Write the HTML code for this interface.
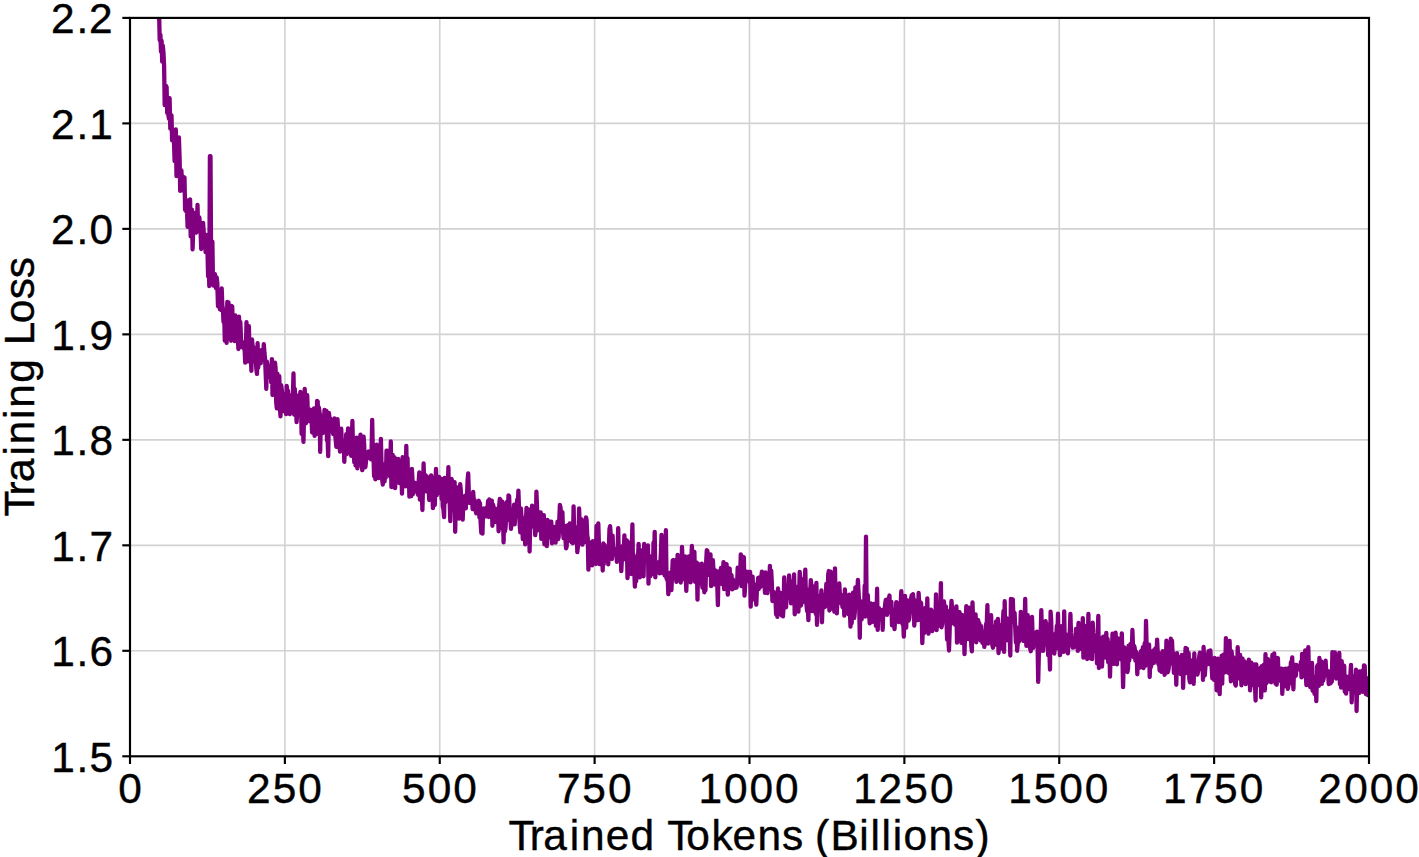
<!DOCTYPE html>
<html lang="en">
<head>
<meta charset="utf-8">
<title>Training Loss vs Trained Tokens</title>
<style>
html,body{margin:0;padding:0;background:#fff;}
body{width:1419px;height:857px;overflow:hidden;font-family:"Liberation Sans",sans-serif;}
svg{display:block;position:absolute;left:0;top:0;}
text{font-family:"Liberation Sans",sans-serif;font-size:100px;fill:#000;stroke:#000;stroke-width:0.94px;stroke-linejoin:round;}
</style>
</head>
<body>
<svg width="1419" height="857" viewBox="0 0 1419 857">
<defs><clipPath id="ax"><rect x="130.0" y="17.9" width="1239.0" height="738.4"/></clipPath></defs>
<rect x="0" y="0" width="1419" height="857" fill="#fff"/>
<g stroke="#d2d2d2" stroke-width="1.6" fill="none">
<line x1="284.88" y1="17.9" x2="284.88" y2="756.3"/>
<line x1="439.75" y1="17.9" x2="439.75" y2="756.3"/>
<line x1="594.62" y1="17.9" x2="594.62" y2="756.3"/>
<line x1="749.50" y1="17.9" x2="749.50" y2="756.3"/>
<line x1="904.38" y1="17.9" x2="904.38" y2="756.3"/>
<line x1="1059.25" y1="17.9" x2="1059.25" y2="756.3"/>
<line x1="1214.12" y1="17.9" x2="1214.12" y2="756.3"/>
<line x1="130.0" y1="650.81" x2="1369.0" y2="650.81"/>
<line x1="130.0" y1="545.33" x2="1369.0" y2="545.33"/>
<line x1="130.0" y1="439.84" x2="1369.0" y2="439.84"/>
<line x1="130.0" y1="334.36" x2="1369.0" y2="334.36"/>
<line x1="130.0" y1="228.87" x2="1369.0" y2="228.87"/>
<line x1="130.0" y1="123.39" x2="1369.0" y2="123.39"/>
</g>
<g clip-path="url(#ax)">
<path fill="none" stroke="#800080" stroke-width="4.3" stroke-linejoin="round" stroke-linecap="square" d="M148.6,-120.7 L149.2,-117.3 L149.8,-101.7 L150.4,-83.8 L151.1,-81.8 L151.7,-66.4 L152.3,-74.7 L152.9,-87.1 L153.5,-51.3 L154.2,-40.7 L154.8,-48.7 L155.4,-40.5 L156.0,-32.3 L156.6,-13.8 L157.3,-15.8 L157.9,-17.8 L158.5,18.3 L159.1,12.2 L159.7,40.2 L160.4,34.6 L161.0,51.6 L161.6,40.7 L162.2,61.7 L162.8,45.7 L163.5,53.3 L164.1,65.8 L164.7,105.1 L165.3,86.6 L165.9,85.7 L166.6,87.0 L167.2,113.0 L167.8,104.5 L168.4,115.4 L169.0,118.8 L169.6,98.2 L170.3,128.7 L170.9,124.8 L171.5,115.3 L172.1,140.4 L172.7,137.9 L173.4,137.9 L174.0,142.4 L174.6,161.1 L175.2,146.3 L175.8,129.5 L176.5,176.2 L177.1,149.3 L177.7,161.0 L178.3,172.8 L178.9,137.5 L179.6,158.0 L180.2,190.9 L180.8,177.1 L181.4,170.5 L182.0,181.7 L182.7,176.4 L183.3,190.6 L183.9,181.6 L184.5,177.3 L185.1,209.9 L185.8,199.4 L186.4,211.9 L187.0,210.2 L187.6,226.8 L188.2,221.7 L188.9,221.2 L189.5,203.2 L190.1,199.4 L190.7,236.4 L191.3,229.7 L191.9,209.7 L192.6,249.4 L193.2,229.7 L193.8,226.2 L194.4,213.0 L195.0,219.6 L195.7,232.0 L196.3,232.6 L196.9,229.6 L197.5,204.8 L198.1,230.4 L198.8,228.9 L199.4,217.5 L200.0,228.7 L200.6,232.4 L201.2,249.0 L201.9,236.5 L202.5,243.3 L203.1,222.9 L203.7,232.0 L204.3,245.1 L205.0,236.4 L205.6,252.1 L206.2,234.8 L206.8,250.1 L207.4,247.5 L208.1,276.5 L208.7,255.7 L209.3,286.1 L209.9,156.1 L210.5,156.1 L211.2,280.7 L211.8,271.4 L212.4,241.7 L213.0,284.8 L213.6,285.5 L214.3,278.1 L214.9,274.1 L215.5,281.2 L216.1,288.4 L216.7,277.5 L217.3,283.1 L218.0,306.3 L218.6,292.5 L219.2,292.2 L219.8,309.2 L220.4,298.2 L221.1,310.2 L221.7,288.4 L222.3,305.0 L222.9,308.6 L223.5,322.0 L224.2,313.5 L224.8,340.7 L225.4,328.8 L226.0,312.6 L226.6,342.9 L227.3,302.0 L227.9,335.2 L228.5,302.5 L229.1,327.6 L229.7,306.8 L230.4,316.0 L231.0,340.8 L231.6,306.0 L232.2,306.3 L232.8,326.5 L233.5,329.4 L234.1,328.5 L234.7,341.1 L235.3,315.4 L235.9,335.5 L236.6,330.7 L237.2,338.7 L237.8,337.6 L238.4,349.0 L239.0,316.6 L239.7,336.8 L240.3,321.8 L240.9,335.4 L241.5,347.0 L242.1,341.8 L242.7,346.0 L243.4,342.8 L244.0,348.8 L244.6,348.5 L245.2,362.7 L245.8,352.8 L246.5,322.2 L247.1,354.4 L247.7,361.4 L248.3,339.9 L248.9,326.2 L249.6,359.7 L250.2,347.5 L250.8,355.0 L251.4,370.8 L252.0,339.4 L252.7,347.9 L253.3,346.9 L253.9,360.5 L254.5,348.7 L255.1,361.4 L255.8,359.4 L256.4,369.5 L257.0,373.9 L257.6,343.2 L258.2,367.5 L258.9,356.1 L259.5,359.3 L260.1,362.4 L260.7,363.3 L261.3,350.1 L262.0,360.0 L262.6,357.0 L263.2,359.1 L263.8,344.2 L264.4,352.3 L265.1,359.3 L265.7,374.0 L266.3,388.9 L266.9,361.6 L267.5,365.6 L268.1,376.9 L268.8,372.9 L269.4,368.2 L270.0,367.6 L270.6,366.1 L271.2,382.5 L271.9,359.1 L272.5,395.0 L273.1,370.8 L273.7,374.0 L274.3,372.2 L275.0,362.7 L275.6,368.4 L276.2,402.2 L276.8,408.3 L277.4,373.6 L278.1,395.5 L278.7,384.1 L279.3,376.2 L279.9,407.8 L280.5,416.3 L281.2,385.2 L281.8,389.8 L282.4,396.6 L283.0,395.5 L283.6,406.7 L284.3,411.3 L284.9,394.2 L285.5,403.0 L286.1,414.1 L286.7,385.9 L287.4,395.0 L288.0,390.6 L288.6,410.5 L289.2,410.9 L289.8,414.2 L290.5,409.4 L291.1,397.0 L291.7,409.6 L292.3,394.4 L292.9,395.2 L293.5,373.5 L294.2,414.6 L294.8,388.8 L295.4,402.3 L296.0,403.2 L296.6,422.2 L297.3,410.6 L297.9,395.7 L298.5,405.8 L299.1,402.9 L299.7,406.9 L300.4,391.9 L301.0,403.3 L301.6,433.9 L302.2,414.4 L302.8,426.7 L303.5,441.9 L304.1,409.0 L304.7,388.9 L305.3,405.9 L305.9,423.4 L306.6,419.2 L307.2,395.2 L307.8,411.8 L308.4,415.2 L309.0,421.0 L309.7,418.7 L310.3,409.6 L310.9,413.1 L311.5,417.9 L312.1,432.5 L312.8,414.7 L313.4,431.0 L314.0,408.5 L314.6,435.9 L315.2,420.0 L315.9,417.5 L316.5,434.0 L317.1,400.8 L317.7,401.4 L318.3,425.0 L318.9,407.5 L319.6,412.5 L320.2,451.9 L320.8,417.4 L321.4,419.7 L322.0,415.8 L322.7,433.2 L323.3,421.1 L323.9,423.0 L324.5,409.9 L325.1,420.7 L325.8,426.4 L326.4,410.8 L327.0,440.5 L327.6,438.9 L328.2,456.2 L328.9,412.8 L329.5,418.7 L330.1,418.3 L330.7,422.1 L331.3,428.1 L332.0,424.8 L332.6,431.1 L333.2,434.2 L333.8,434.1 L334.4,418.4 L335.1,433.3 L335.7,439.9 L336.3,446.8 L336.9,446.9 L337.5,419.2 L338.2,431.8 L338.8,437.5 L339.4,442.7 L340.0,451.7 L340.6,440.7 L341.2,428.6 L341.9,444.6 L342.5,441.4 L343.1,443.6 L343.7,440.8 L344.3,461.8 L345.0,444.9 L345.6,452.8 L346.2,434.2 L346.8,454.1 L347.4,440.0 L348.1,428.4 L348.7,448.4 L349.3,450.3 L349.9,442.3 L350.5,443.3 L351.2,455.8 L351.8,438.5 L352.4,421.0 L353.0,447.9 L353.6,449.8 L354.3,462.5 L354.9,445.8 L355.5,465.5 L356.1,463.2 L356.7,437.6 L357.4,468.4 L358.0,444.1 L358.6,441.2 L359.2,455.2 L359.8,450.9 L360.5,434.7 L361.1,460.9 L361.7,465.5 L362.3,470.2 L362.9,454.9 L363.6,436.7 L364.2,444.7 L364.8,467.3 L365.4,467.0 L366.0,461.5 L366.6,452.6 L367.3,458.5 L367.9,453.4 L368.5,451.5 L369.1,456.5 L369.7,455.1 L370.4,453.4 L371.0,459.4 L371.6,450.4 L372.2,419.8 L372.8,450.6 L373.5,455.9 L374.1,476.3 L374.7,452.0 L375.3,479.3 L375.9,469.2 L376.6,444.7 L377.2,445.7 L377.8,455.9 L378.4,478.2 L379.0,466.0 L379.7,470.1 L380.3,454.0 L380.9,438.8 L381.5,464.9 L382.1,479.4 L382.8,484.5 L383.4,471.9 L384.0,470.7 L384.6,481.4 L385.2,463.8 L385.9,477.4 L386.5,450.6 L387.1,450.7 L387.7,454.8 L388.3,472.1 L389.0,462.3 L389.6,470.3 L390.2,476.5 L390.8,441.5 L391.4,487.0 L392.0,486.9 L392.7,454.9 L393.3,467.3 L393.9,463.2 L394.5,457.4 L395.1,488.1 L395.8,476.4 L396.4,464.9 L397.0,465.1 L397.6,475.9 L398.2,458.8 L398.9,467.9 L399.5,483.1 L400.1,481.5 L400.7,463.9 L401.3,468.0 L402.0,493.7 L402.6,457.1 L403.2,465.8 L403.8,458.2 L404.4,477.1 L405.1,477.3 L405.7,486.3 L406.3,445.9 L406.9,479.7 L407.5,458.1 L408.2,485.3 L408.8,474.8 L409.4,496.7 L410.0,483.9 L410.6,470.0 L411.3,496.1 L411.9,468.8 L412.5,480.2 L413.1,494.0 L413.7,489.2 L414.4,489.0 L415.0,483.0 L415.6,487.2 L416.2,491.1 L416.8,484.4 L417.4,490.6 L418.1,494.8 L418.7,481.1 L419.3,472.5 L419.9,499.7 L420.5,482.3 L421.2,489.4 L421.8,494.3 L422.4,510.0 L423.0,486.5 L423.6,463.5 L424.3,488.0 L424.9,474.6 L425.5,485.6 L426.1,491.4 L426.7,476.2 L427.4,483.9 L428.0,478.9 L428.6,487.2 L429.2,500.0 L429.8,489.3 L430.5,485.2 L431.1,475.3 L431.7,497.7 L432.3,490.1 L432.9,508.2 L433.6,477.9 L434.2,496.7 L434.8,505.0 L435.4,483.2 L436.0,468.8 L436.7,495.2 L437.3,488.8 L437.9,486.2 L438.5,493.0 L439.1,476.8 L439.8,490.5 L440.4,491.0 L441.0,478.7 L441.6,498.9 L442.2,487.8 L442.8,506.4 L443.5,509.6 L444.1,517.1 L444.7,477.9 L445.3,502.3 L445.9,494.0 L446.6,494.6 L447.2,489.7 L447.8,486.3 L448.4,467.1 L449.0,499.4 L449.7,502.9 L450.3,521.1 L450.9,501.1 L451.5,478.8 L452.1,481.0 L452.8,504.8 L453.4,509.3 L454.0,499.3 L454.6,482.2 L455.2,531.8 L455.9,494.7 L456.5,512.2 L457.1,487.3 L457.7,512.8 L458.3,504.1 L459.0,518.7 L459.6,511.1 L460.2,484.1 L460.8,490.3 L461.4,504.3 L462.1,510.3 L462.7,519.6 L463.3,501.1 L463.9,497.1 L464.5,496.6 L465.1,495.7 L465.8,508.4 L466.4,496.7 L467.0,496.0 L467.6,480.0 L468.2,473.5 L468.9,495.2 L469.5,502.8 L470.1,495.6 L470.7,500.5 L471.3,502.4 L472.0,498.2 L472.6,509.1 L473.2,491.8 L473.8,502.0 L474.4,499.6 L475.1,505.9 L475.7,511.2 L476.3,513.3 L476.9,504.9 L477.5,509.6 L478.2,501.7 L478.8,500.8 L479.4,517.3 L480.0,503.2 L480.6,521.8 L481.3,532.9 L481.9,510.2 L482.5,533.7 L483.1,508.7 L483.7,508.5 L484.4,513.3 L485.0,512.3 L485.6,512.7 L486.2,516.4 L486.8,507.6 L487.5,508.6 L488.1,500.8 L488.7,517.0 L489.3,499.5 L489.9,501.3 L490.5,504.7 L491.2,513.4 L491.8,500.6 L492.4,525.8 L493.0,504.4 L493.6,507.3 L494.3,508.3 L494.9,510.0 L495.5,521.8 L496.1,516.1 L496.7,508.8 L497.4,509.5 L498.0,512.1 L498.6,531.3 L499.2,506.0 L499.8,498.9 L500.5,500.0 L501.1,509.4 L501.7,528.4 L502.3,501.6 L502.9,513.4 L503.6,542.4 L504.2,510.9 L504.8,531.5 L505.4,529.0 L506.0,520.9 L506.7,502.2 L507.3,520.1 L507.9,512.4 L508.5,495.3 L509.1,495.9 L509.8,514.5 L510.4,517.5 L511.0,528.8 L511.6,522.6 L512.2,512.1 L512.9,513.8 L513.5,514.6 L514.1,504.6 L514.7,524.4 L515.3,514.3 L515.9,506.0 L516.6,506.5 L517.2,499.7 L517.8,506.9 L518.4,490.6 L519.0,508.2 L519.7,524.7 L520.3,532.4 L520.9,508.5 L521.5,516.6 L522.1,517.6 L522.8,539.2 L523.4,526.6 L524.0,528.7 L524.6,529.2 L525.2,544.4 L525.9,522.9 L526.5,508.0 L527.1,511.2 L527.7,523.9 L528.3,517.4 L529.0,509.6 L529.6,551.5 L530.2,524.3 L530.8,517.3 L531.4,518.1 L532.1,505.7 L532.7,512.2 L533.3,524.7 L533.9,526.9 L534.5,518.0 L535.2,535.2 L535.8,529.4 L536.4,491.7 L537.0,505.8 L537.6,530.4 L538.3,527.8 L538.9,523.8 L539.5,512.6 L540.1,526.9 L540.7,512.3 L541.3,538.9 L542.0,529.9 L542.6,528.3 L543.2,518.0 L543.8,515.1 L544.4,544.3 L545.1,536.1 L545.7,522.7 L546.3,534.9 L546.9,546.2 L547.5,520.0 L548.2,525.2 L548.8,525.9 L549.4,537.4 L550.0,521.6 L550.6,536.0 L551.3,521.7 L551.9,543.3 L552.5,541.2 L553.1,528.7 L553.7,540.4 L554.4,526.8 L555.0,531.8 L555.6,542.7 L556.2,529.3 L556.8,533.9 L557.5,521.6 L558.1,539.2 L558.7,536.8 L559.3,518.9 L559.9,504.9 L560.6,507.9 L561.2,531.1 L561.8,529.6 L562.4,512.1 L563.0,531.1 L563.6,538.2 L564.3,525.8 L564.9,527.2 L565.5,540.1 L566.1,548.4 L566.7,546.3 L567.4,525.4 L568.0,541.3 L568.6,537.1 L569.2,530.3 L569.8,523.5 L570.5,535.3 L571.1,527.7 L571.7,542.4 L572.3,536.5 L572.9,543.2 L573.6,506.3 L574.2,534.5 L574.8,540.6 L575.4,537.8 L576.0,537.2 L576.7,527.5 L577.3,552.2 L577.9,546.5 L578.5,540.0 L579.1,508.3 L579.8,529.8 L580.4,542.1 L581.0,532.4 L581.6,519.3 L582.2,544.7 L582.9,543.3 L583.5,523.3 L584.1,531.1 L584.7,528.9 L585.3,541.8 L586.0,517.3 L586.6,520.1 L587.2,535.1 L587.8,538.6 L588.4,569.6 L589.0,542.8 L589.7,552.7 L590.3,546.9 L590.9,542.5 L591.5,553.1 L592.1,565.4 L592.8,541.1 L593.4,553.5 L594.0,547.2 L594.6,550.3 L595.2,543.2 L595.9,564.0 L596.5,526.0 L597.1,539.3 L597.7,531.0 L598.3,523.5 L599.0,546.8 L599.6,564.2 L600.2,557.1 L600.8,562.8 L601.4,553.9 L602.1,547.5 L602.7,570.5 L603.3,543.5 L603.9,563.9 L604.5,544.8 L605.2,550.7 L605.8,550.2 L606.4,549.6 L607.0,551.2 L607.6,553.8 L608.3,564.3 L608.9,546.9 L609.5,528.9 L610.1,526.2 L610.7,535.0 L611.4,542.8 L612.0,559.0 L612.6,535.7 L613.2,552.8 L613.8,551.2 L614.4,551.5 L615.1,549.9 L615.7,554.7 L616.3,548.8 L616.9,561.9 L617.5,554.6 L618.2,528.1 L618.8,556.0 L619.4,558.1 L620.0,548.2 L620.6,549.8 L621.3,571.1 L621.9,559.0 L622.5,546.2 L623.1,552.1 L623.7,550.6 L624.4,535.4 L625.0,559.3 L625.6,550.6 L626.2,558.6 L626.8,540.3 L627.5,578.1 L628.1,563.9 L628.7,563.8 L629.3,550.9 L629.9,551.5 L630.6,542.2 L631.2,574.0 L631.8,550.1 L632.4,524.3 L633.0,566.8 L633.7,555.2 L634.3,572.2 L634.9,586.7 L635.5,570.0 L636.1,581.4 L636.8,569.6 L637.4,558.9 L638.0,558.0 L638.6,543.9 L639.2,564.3 L639.8,577.4 L640.5,565.6 L641.1,568.3 L641.7,570.4 L642.3,550.2 L642.9,560.9 L643.6,576.3 L644.2,543.9 L644.8,552.7 L645.4,550.4 L646.0,552.8 L646.7,548.0 L647.3,556.2 L647.9,545.4 L648.5,583.6 L649.1,555.7 L649.8,557.1 L650.4,576.2 L651.0,561.3 L651.6,561.9 L652.2,558.3 L652.9,573.9 L653.5,542.7 L654.1,556.4 L654.7,531.9 L655.3,577.3 L656.0,563.3 L656.6,564.6 L657.2,571.1 L657.8,562.5 L658.4,571.7 L659.1,562.0 L659.7,573.4 L660.3,565.2 L660.9,552.9 L661.5,534.8 L662.2,572.9 L662.8,567.3 L663.4,571.7 L664.0,554.4 L664.6,575.5 L665.2,567.8 L665.9,530.2 L666.5,578.2 L667.1,579.8 L667.7,577.2 L668.3,594.2 L669.0,585.7 L669.6,575.9 L670.2,572.7 L670.8,574.8 L671.4,590.2 L672.1,574.5 L672.7,560.6 L673.3,560.0 L673.9,566.7 L674.5,576.4 L675.2,560.5 L675.8,574.4 L676.4,581.8 L677.0,578.8 L677.6,554.8 L678.3,570.3 L678.9,561.8 L679.5,579.6 L680.1,564.8 L680.7,582.5 L681.4,575.9 L682.0,546.9 L682.6,563.4 L683.2,579.0 L683.8,572.9 L684.5,567.3 L685.1,556.3 L685.7,575.8 L686.3,590.9 L686.9,574.1 L687.6,570.8 L688.2,568.9 L688.8,556.4 L689.4,568.1 L690.0,563.3 L690.6,582.4 L691.3,558.6 L691.9,546.0 L692.5,562.4 L693.1,568.7 L693.7,570.2 L694.4,551.9 L695.0,581.8 L695.6,570.3 L696.2,565.1 L696.8,562.6 L697.5,599.7 L698.1,563.9 L698.7,571.1 L699.3,566.7 L699.9,569.8 L700.6,583.6 L701.2,574.7 L701.8,563.7 L702.4,587.7 L703.0,580.4 L703.7,571.7 L704.3,592.3 L704.9,577.9 L705.5,590.3 L706.1,563.4 L706.8,550.2 L707.4,550.8 L708.0,574.8 L708.6,564.3 L709.2,569.1 L709.9,569.0 L710.5,554.4 L711.1,586.2 L711.7,563.0 L712.3,575.2 L712.9,560.2 L713.6,573.4 L714.2,584.5 L714.8,573.7 L715.4,570.4 L716.0,578.6 L716.7,572.0 L717.3,586.4 L717.9,605.2 L718.5,571.3 L719.1,574.6 L719.8,578.5 L720.4,580.5 L721.0,567.8 L721.6,584.0 L722.2,582.4 L722.9,576.4 L723.5,562.2 L724.1,589.1 L724.7,563.6 L725.3,581.7 L726.0,588.8 L726.6,564.2 L727.2,581.4 L727.8,594.6 L728.4,584.8 L729.1,571.6 L729.7,568.5 L730.3,584.3 L730.9,577.0 L731.5,575.0 L732.2,589.3 L732.8,579.1 L733.4,583.5 L734.0,588.2 L734.6,588.1 L735.3,583.5 L735.9,581.1 L736.5,587.6 L737.1,584.3 L737.7,567.7 L738.3,578.2 L739.0,571.7 L739.6,568.9 L740.2,573.6 L740.8,554.4 L741.4,586.1 L742.1,569.4 L742.7,581.2 L743.3,557.0 L743.9,557.5 L744.5,595.7 L745.2,585.3 L745.8,571.4 L746.4,572.6 L747.0,571.9 L747.6,580.1 L748.3,575.3 L748.9,571.9 L749.5,582.1 L750.1,571.8 L750.7,606.7 L751.4,577.4 L752.0,596.0 L752.6,576.6 L753.2,589.8 L753.8,599.4 L754.5,584.6 L755.1,598.3 L755.7,597.9 L756.3,604.7 L756.9,589.4 L757.6,584.3 L758.2,577.8 L758.8,589.0 L759.4,577.3 L760.0,586.0 L760.7,586.7 L761.3,577.0 L761.9,571.7 L762.5,585.3 L763.1,583.6 L763.7,582.0 L764.4,581.0 L765.0,592.9 L765.6,572.4 L766.2,587.4 L766.8,577.9 L767.5,593.1 L768.1,583.1 L768.7,582.0 L769.3,589.0 L769.9,565.9 L770.6,583.9 L771.2,570.6 L771.8,582.2 L772.4,601.0 L773.0,598.6 L773.7,591.9 L774.3,596.4 L774.9,595.2 L775.5,599.1 L776.1,614.3 L776.8,597.9 L777.4,616.9 L778.0,588.5 L778.6,602.1 L779.2,602.8 L779.9,597.4 L780.5,593.0 L781.1,613.8 L781.7,615.4 L782.3,605.5 L783.0,616.3 L783.6,605.5 L784.2,577.3 L784.8,604.9 L785.4,585.9 L786.1,607.3 L786.7,587.8 L787.3,597.9 L787.9,595.4 L788.5,587.5 L789.1,575.4 L789.8,592.1 L790.4,592.8 L791.0,603.4 L791.6,587.0 L792.2,594.9 L792.9,581.1 L793.5,591.6 L794.1,574.4 L794.7,614.3 L795.3,598.8 L796.0,586.7 L796.6,601.2 L797.2,606.7 L797.8,602.8 L798.4,611.6 L799.1,596.8 L799.7,572.0 L800.3,581.6 L800.9,605.5 L801.5,603.0 L802.2,596.7 L802.8,579.1 L803.4,601.8 L804.0,597.4 L804.6,582.0 L805.3,569.6 L805.9,597.6 L806.5,604.9 L807.1,611.0 L807.7,604.2 L808.4,620.1 L809.0,589.3 L809.6,604.1 L810.2,593.2 L810.8,580.1 L811.5,586.6 L812.1,611.2 L812.7,591.5 L813.3,586.4 L813.9,607.0 L814.5,608.5 L815.2,599.5 L815.8,613.9 L816.4,582.9 L817.0,624.9 L817.6,609.5 L818.3,599.6 L818.9,601.1 L819.5,597.5 L820.1,596.0 L820.7,602.9 L821.4,590.4 L822.0,622.3 L822.6,600.1 L823.2,607.8 L823.8,595.6 L824.5,594.7 L825.1,606.9 L825.7,602.1 L826.3,584.0 L826.9,590.9 L827.6,601.4 L828.2,574.7 L828.8,571.0 L829.4,610.5 L830.0,593.6 L830.7,571.7 L831.3,591.2 L831.9,598.6 L832.5,603.9 L833.1,608.9 L833.8,607.5 L834.4,611.7 L835.0,568.3 L835.6,607.2 L836.2,605.7 L836.8,613.3 L837.5,596.9 L838.1,603.7 L838.7,595.3 L839.3,583.5 L839.9,595.4 L840.6,594.2 L841.2,598.2 L841.8,599.1 L842.4,606.6 L843.0,607.6 L843.7,597.2 L844.3,615.6 L844.9,589.5 L845.5,603.2 L846.1,612.3 L846.8,611.1 L847.4,611.5 L848.0,606.3 L848.6,614.4 L849.2,594.7 L849.9,611.6 L850.5,626.6 L851.1,608.5 L851.7,623.1 L852.3,604.0 L853.0,592.7 L853.6,596.7 L854.2,617.9 L854.8,612.5 L855.4,587.3 L856.1,604.2 L856.7,607.6 L857.3,595.3 L857.9,579.8 L858.5,591.2 L859.2,604.2 L859.8,637.8 L860.4,601.2 L861.0,615.3 L861.6,619.4 L862.2,606.4 L862.9,616.5 L863.5,609.7 L864.1,608.8 L864.7,585.6 L865.3,616.6 L866.0,536.7 L866.6,606.1 L867.2,601.6 L867.8,595.2 L868.4,610.7 L869.1,614.2 L869.7,623.4 L870.3,618.6 L870.9,603.4 L871.5,611.3 L872.2,621.9 L872.8,613.8 L873.4,609.5 L874.0,603.9 L874.6,614.0 L875.3,609.6 L875.9,625.9 L876.5,618.2 L877.1,588.7 L877.7,629.9 L878.4,611.9 L879.0,608.1 L879.6,615.8 L880.2,619.3 L880.8,611.6 L881.5,610.3 L882.1,611.2 L882.7,629.9 L883.3,609.7 L883.9,614.5 L884.6,610.8 L885.2,603.8 L885.8,599.9 L886.4,600.3 L887.0,614.8 L887.6,599.6 L888.3,599.1 L888.9,598.5 L889.5,595.5 L890.1,612.0 L890.7,612.8 L891.4,602.0 L892.0,625.4 L892.6,610.0 L893.2,615.4 L893.8,615.4 L894.5,629.1 L895.1,620.2 L895.7,612.4 L896.3,602.1 L896.9,602.7 L897.6,613.0 L898.2,616.3 L898.8,622.0 L899.4,608.7 L900.0,614.5 L900.7,603.6 L901.3,591.1 L901.9,608.4 L902.5,624.1 L903.1,618.3 L903.8,636.6 L904.4,621.2 L905.0,595.8 L905.6,607.9 L906.2,627.7 L906.9,607.1 L907.5,600.5 L908.1,616.9 L908.7,620.6 L909.3,618.0 L910.0,608.4 L910.6,605.5 L911.2,597.7 L911.8,595.1 L912.4,596.4 L913.0,594.1 L913.7,602.0 L914.3,625.7 L914.9,613.2 L915.5,607.1 L916.1,614.4 L916.8,600.4 L917.4,613.9 L918.0,620.2 L918.6,593.0 L919.2,602.6 L919.9,608.3 L920.5,602.3 L921.1,602.9 L921.7,612.9 L922.3,643.2 L923.0,624.4 L923.6,626.7 L924.2,633.0 L924.8,619.6 L925.4,607.9 L926.1,626.6 L926.7,630.8 L927.3,598.3 L927.9,626.5 L928.5,633.7 L929.2,618.2 L929.8,615.9 L930.4,626.9 L931.0,609.7 L931.6,626.3 L932.3,631.0 L932.9,619.0 L933.5,611.7 L934.1,628.8 L934.7,619.7 L935.4,624.9 L936.0,594.4 L936.6,630.1 L937.2,608.3 L937.8,624.3 L938.4,625.7 L939.1,613.4 L939.7,610.5 L940.3,608.0 L940.9,583.1 L941.5,627.3 L942.2,623.9 L942.8,610.6 L943.4,609.7 L944.0,601.5 L944.6,614.1 L945.3,608.0 L945.9,606.4 L946.5,620.1 L947.1,639.6 L947.7,637.1 L948.4,639.9 L949.0,650.5 L949.6,632.7 L950.2,610.4 L950.8,614.2 L951.5,600.9 L952.1,608.1 L952.7,621.9 L953.3,623.3 L953.9,621.3 L954.6,619.9 L955.2,624.8 L955.8,622.7 L956.4,606.3 L957.0,642.7 L957.7,618.3 L958.3,630.2 L958.9,618.2 L959.5,612.1 L960.1,625.2 L960.7,616.2 L961.4,642.9 L962.0,614.8 L962.6,633.2 L963.2,618.7 L963.8,624.3 L964.5,654.2 L965.1,633.4 L965.7,622.6 L966.3,606.1 L966.9,618.1 L967.6,619.4 L968.2,639.2 L968.8,611.8 L969.4,607.6 L970.0,627.8 L970.7,629.3 L971.3,645.8 L971.9,651.3 L972.5,602.5 L973.1,621.4 L973.8,614.4 L974.4,622.3 L975.0,637.6 L975.6,614.3 L976.2,642.3 L976.9,630.0 L977.5,622.4 L978.1,620.0 L978.7,624.0 L979.3,623.2 L980.0,635.3 L980.6,640.4 L981.2,626.1 L981.8,633.8 L982.4,642.9 L983.1,640.6 L983.7,632.4 L984.3,646.9 L984.9,641.7 L985.5,643.5 L986.1,623.9 L986.8,622.6 L987.4,605.2 L988.0,643.5 L988.6,635.9 L989.2,620.5 L989.9,632.2 L990.5,635.5 L991.1,615.2 L991.7,636.9 L992.3,645.0 L993.0,647.7 L993.6,627.3 L994.2,626.5 L994.8,644.7 L995.4,638.6 L996.1,621.3 L996.7,621.9 L997.3,633.0 L997.9,618.9 L998.5,653.0 L999.2,645.7 L999.8,631.4 L1000.4,625.1 L1001.0,635.3 L1001.6,648.5 L1002.3,632.6 L1002.9,620.5 L1003.5,610.9 L1004.1,651.9 L1004.7,601.2 L1005.4,640.4 L1006.0,618.7 L1006.6,618.2 L1007.2,618.6 L1007.8,626.3 L1008.5,640.6 L1009.1,621.4 L1009.7,635.6 L1010.3,655.5 L1010.9,598.8 L1011.5,622.4 L1012.2,611.9 L1012.8,599.3 L1013.4,616.7 L1014.0,613.3 L1014.6,613.0 L1015.3,629.1 L1015.9,642.3 L1016.5,629.6 L1017.1,650.8 L1017.7,644.5 L1018.4,627.7 L1019.0,641.6 L1019.6,633.7 L1020.2,632.9 L1020.8,611.9 L1021.5,619.6 L1022.1,634.3 L1022.7,619.9 L1023.3,640.9 L1023.9,635.2 L1024.6,622.0 L1025.2,599.0 L1025.8,634.3 L1026.4,645.9 L1027.0,630.8 L1027.7,615.1 L1028.3,642.8 L1028.9,633.4 L1029.5,646.1 L1030.1,648.1 L1030.8,651.2 L1031.4,624.2 L1032.0,616.8 L1032.6,636.0 L1033.2,647.9 L1033.9,633.2 L1034.5,643.2 L1035.1,634.8 L1035.7,638.4 L1036.3,636.7 L1036.9,631.6 L1037.6,645.1 L1038.2,681.9 L1038.8,656.4 L1039.4,642.8 L1040.0,650.8 L1040.7,634.7 L1041.3,610.1 L1041.9,632.2 L1042.5,630.5 L1043.1,650.9 L1043.8,642.8 L1044.4,645.2 L1045.0,628.9 L1045.6,621.2 L1046.2,631.3 L1046.9,642.0 L1047.5,625.0 L1048.1,655.3 L1048.7,624.4 L1049.3,647.3 L1050.0,669.6 L1050.6,611.6 L1051.2,620.6 L1051.8,651.8 L1052.4,638.3 L1053.1,641.7 L1053.7,637.5 L1054.3,653.5 L1054.9,647.0 L1055.5,633.7 L1056.2,638.6 L1056.8,625.9 L1057.4,636.1 L1058.0,613.7 L1058.6,648.6 L1059.2,636.3 L1059.9,655.2 L1060.5,652.5 L1061.1,626.1 L1061.7,649.5 L1062.3,634.4 L1063.0,641.9 L1063.6,651.9 L1064.2,611.3 L1064.8,650.2 L1065.4,648.1 L1066.1,634.3 L1066.7,638.1 L1067.3,650.4 L1067.9,653.4 L1068.5,641.2 L1069.2,645.4 L1069.8,632.0 L1070.4,613.8 L1071.0,632.9 L1071.6,641.1 L1072.3,642.6 L1072.9,647.7 L1073.5,647.5 L1074.1,646.3 L1074.7,639.9 L1075.4,640.9 L1076.0,628.9 L1076.6,640.7 L1077.2,638.6 L1077.8,650.9 L1078.5,623.0 L1079.1,639.5 L1079.7,627.2 L1080.3,636.8 L1080.9,628.2 L1081.6,649.2 L1082.2,638.5 L1082.8,618.1 L1083.4,657.6 L1084.0,629.7 L1084.6,625.6 L1085.3,640.8 L1085.9,640.7 L1086.5,634.9 L1087.1,659.0 L1087.7,646.5 L1088.4,614.0 L1089.0,658.2 L1089.6,656.4 L1090.2,651.4 L1090.8,645.5 L1091.5,641.7 L1092.1,659.2 L1092.7,622.7 L1093.3,632.9 L1093.9,638.8 L1094.6,651.0 L1095.2,647.8 L1095.8,640.4 L1096.4,639.5 L1097.0,663.4 L1097.7,638.1 L1098.3,616.0 L1098.9,668.0 L1099.5,637.8 L1100.1,646.9 L1100.8,653.0 L1101.4,638.3 L1102.0,666.6 L1102.6,652.1 L1103.2,636.6 L1103.9,653.7 L1104.5,657.5 L1105.1,649.6 L1105.7,653.8 L1106.3,632.9 L1107.0,658.3 L1107.6,638.8 L1108.2,662.3 L1108.8,642.4 L1109.4,648.7 L1110.0,676.6 L1110.7,650.5 L1111.3,660.8 L1111.9,653.4 L1112.5,633.6 L1113.1,662.4 L1113.8,663.8 L1114.4,635.9 L1115.0,648.5 L1115.6,632.6 L1116.2,648.5 L1116.9,664.4 L1117.5,653.7 L1118.1,638.4 L1118.7,640.7 L1119.3,652.2 L1120.0,651.7 L1120.6,654.1 L1121.2,659.5 L1121.8,633.4 L1122.4,654.9 L1123.1,687.1 L1123.7,659.6 L1124.3,647.3 L1124.9,649.9 L1125.5,657.9 L1126.2,662.6 L1126.8,652.5 L1127.4,672.0 L1128.0,668.9 L1128.6,645.7 L1129.3,660.4 L1129.9,651.9 L1130.5,644.0 L1131.1,648.8 L1131.7,655.7 L1132.4,630.0 L1133.0,645.4 L1133.6,657.2 L1134.2,646.0 L1134.8,648.8 L1135.4,660.6 L1136.1,651.6 L1136.7,653.7 L1137.3,674.3 L1137.9,654.7 L1138.5,655.9 L1139.2,655.9 L1139.8,667.7 L1140.4,654.9 L1141.0,651.4 L1141.6,650.6 L1142.3,665.9 L1142.9,647.1 L1143.5,668.2 L1144.1,656.4 L1144.7,643.2 L1145.4,665.8 L1146.0,620.8 L1146.6,645.1 L1147.2,661.5 L1147.8,660.4 L1148.5,652.2 L1149.1,644.7 L1149.7,677.0 L1150.3,661.8 L1150.9,667.1 L1151.6,663.9 L1152.2,660.1 L1152.8,660.6 L1153.4,650.4 L1154.0,662.8 L1154.7,652.2 L1155.3,648.5 L1155.9,660.2 L1156.5,656.4 L1157.1,639.6 L1157.8,653.7 L1158.4,664.0 L1159.0,660.1 L1159.6,670.5 L1160.2,659.5 L1160.8,653.4 L1161.5,671.8 L1162.1,665.8 L1162.7,651.1 L1163.3,669.6 L1163.9,661.3 L1164.6,674.8 L1165.2,670.8 L1165.8,670.5 L1166.4,640.7 L1167.0,670.2 L1167.7,672.2 L1168.3,670.4 L1168.9,666.3 L1169.5,656.5 L1170.1,663.6 L1170.8,638.7 L1171.4,656.8 L1172.0,640.6 L1172.6,654.1 L1173.2,653.0 L1173.9,672.8 L1174.5,659.4 L1175.1,658.1 L1175.7,662.0 L1176.3,684.8 L1177.0,653.2 L1177.6,665.2 L1178.2,663.9 L1178.8,664.2 L1179.4,663.1 L1180.1,657.0 L1180.7,674.2 L1181.3,667.9 L1181.9,654.9 L1182.5,655.9 L1183.1,687.9 L1183.8,665.9 L1184.4,668.4 L1185.0,659.8 L1185.6,647.8 L1186.2,673.2 L1186.9,648.7 L1187.5,657.2 L1188.1,671.0 L1188.7,653.2 L1189.3,678.8 L1190.0,682.4 L1190.6,676.2 L1191.2,667.7 L1191.8,662.8 L1192.4,664.2 L1193.1,659.7 L1193.7,683.9 L1194.3,653.4 L1194.9,674.4 L1195.5,666.3 L1196.2,663.1 L1196.8,671.7 L1197.4,674.6 L1198.0,671.7 L1198.6,661.8 L1199.3,656.4 L1199.9,652.6 L1200.5,669.0 L1201.1,665.8 L1201.7,669.3 L1202.4,655.1 L1203.0,679.9 L1203.6,647.0 L1204.2,666.7 L1204.8,675.4 L1205.5,665.4 L1206.1,659.0 L1206.7,663.1 L1207.3,654.2 L1207.9,664.2 L1208.5,651.1 L1209.2,652.1 L1209.8,664.1 L1210.4,650.3 L1211.0,662.2 L1211.6,665.4 L1212.3,678.4 L1212.9,671.3 L1213.5,659.7 L1214.1,679.9 L1214.7,658.0 L1215.4,660.1 L1216.0,663.4 L1216.6,690.3 L1217.2,665.7 L1217.8,658.7 L1218.5,676.2 L1219.1,666.5 L1219.7,694.2 L1220.3,659.8 L1220.9,672.9 L1221.6,655.9 L1222.2,683.7 L1222.8,655.2 L1223.4,662.8 L1224.0,654.3 L1224.7,672.4 L1225.3,669.8 L1225.9,638.1 L1226.5,670.1 L1227.1,668.2 L1227.8,664.1 L1228.4,672.8 L1229.0,647.2 L1229.6,640.8 L1230.2,667.4 L1230.9,681.3 L1231.5,651.2 L1232.1,655.9 L1232.7,658.8 L1233.3,657.3 L1233.9,678.6 L1234.6,672.6 L1235.2,684.4 L1235.8,685.5 L1236.4,661.9 L1237.0,676.8 L1237.7,647.2 L1238.3,668.9 L1238.9,678.4 L1239.5,664.7 L1240.1,654.8 L1240.8,666.4 L1241.4,685.3 L1242.0,669.3 L1242.6,658.7 L1243.2,679.8 L1243.9,682.3 L1244.5,661.5 L1245.1,668.5 L1245.7,684.1 L1246.3,674.3 L1247.0,677.9 L1247.6,668.2 L1248.2,671.2 L1248.8,659.6 L1249.4,664.1 L1250.1,690.4 L1250.7,666.5 L1251.3,662.7 L1251.9,669.8 L1252.5,664.7 L1253.2,679.2 L1253.8,685.3 L1254.4,664.5 L1255.0,685.9 L1255.6,700.5 L1256.3,664.4 L1256.9,680.5 L1257.5,671.9 L1258.1,685.1 L1258.7,683.8 L1259.3,683.1 L1260.0,675.5 L1260.6,667.6 L1261.2,697.4 L1261.8,666.2 L1262.4,687.3 L1263.1,685.3 L1263.7,664.9 L1264.3,672.1 L1264.9,690.4 L1265.5,654.1 L1266.2,683.4 L1266.8,670.8 L1267.4,672.2 L1268.0,659.1 L1268.6,681.3 L1269.3,665.3 L1269.9,681.2 L1270.5,661.5 L1271.1,682.3 L1271.7,678.6 L1272.4,655.0 L1273.0,673.5 L1273.6,674.2 L1274.2,653.3 L1274.8,672.3 L1275.5,683.7 L1276.1,665.1 L1276.7,684.8 L1277.3,660.5 L1277.9,658.0 L1278.6,679.1 L1279.2,676.9 L1279.8,668.4 L1280.4,669.0 L1281.0,681.3 L1281.7,668.7 L1282.3,693.9 L1282.9,676.6 L1283.5,674.7 L1284.1,675.3 L1284.7,668.9 L1285.4,686.2 L1286.0,668.6 L1286.6,673.1 L1287.2,680.5 L1287.8,688.8 L1288.5,685.1 L1289.1,667.8 L1289.7,683.0 L1290.3,675.0 L1290.9,662.4 L1291.6,663.5 L1292.2,657.4 L1292.8,678.0 L1293.4,689.4 L1294.0,669.7 L1294.7,676.6 L1295.3,664.9 L1295.9,675.7 L1296.5,664.8 L1297.1,668.1 L1297.8,667.4 L1298.4,669.4 L1299.0,669.3 L1299.6,668.8 L1300.2,669.7 L1300.9,661.8 L1301.5,677.4 L1302.1,653.9 L1302.7,676.1 L1303.3,664.1 L1304.0,673.9 L1304.6,675.6 L1305.2,650.4 L1305.8,675.5 L1306.4,685.2 L1307.0,680.0 L1307.7,674.0 L1308.3,647.2 L1308.9,670.2 L1309.5,663.9 L1310.1,687.0 L1310.8,675.6 L1311.4,673.5 L1312.0,662.9 L1312.6,690.8 L1313.2,676.5 L1313.9,679.0 L1314.5,693.9 L1315.1,680.8 L1315.7,679.9 L1316.3,701.1 L1317.0,666.7 L1317.6,665.3 L1318.2,677.1 L1318.8,685.9 L1319.4,658.0 L1320.1,673.2 L1320.7,666.9 L1321.3,661.5 L1321.9,683.9 L1322.5,670.5 L1323.2,680.5 L1323.8,677.5 L1324.4,675.3 L1325.0,672.0 L1325.6,660.6 L1326.3,672.2 L1326.9,674.3 L1327.5,675.9 L1328.1,671.1 L1328.7,684.0 L1329.4,681.0 L1330.0,678.9 L1330.6,683.3 L1331.2,676.1 L1331.8,681.6 L1332.4,652.2 L1333.1,659.3 L1333.7,671.2 L1334.3,677.1 L1334.9,652.4 L1335.5,670.6 L1336.2,678.5 L1336.8,672.6 L1337.4,675.2 L1338.0,663.4 L1338.6,676.9 L1339.3,653.0 L1339.9,684.1 L1340.5,671.6 L1341.1,687.7 L1341.7,661.1 L1342.4,679.6 L1343.0,676.8 L1343.6,667.2 L1344.2,665.8 L1344.8,691.7 L1345.5,683.3 L1346.1,693.6 L1346.7,676.6 L1347.3,681.5 L1347.9,684.7 L1348.6,689.1 L1349.2,683.1 L1349.8,687.5 L1350.4,674.7 L1351.0,664.9 L1351.7,702.4 L1352.3,684.5 L1352.9,685.8 L1353.5,676.6 L1354.1,692.4 L1354.8,683.5 L1355.4,689.1 L1356.0,669.7 L1356.6,711.0 L1357.2,677.8 L1357.8,674.3 L1358.5,679.6 L1359.1,693.1 L1359.7,671.3 L1360.3,675.3 L1360.9,683.1 L1361.6,671.5 L1362.2,670.9 L1362.8,691.9 L1363.4,688.8 L1364.0,665.3 L1364.7,665.8 L1365.3,688.4 L1365.9,694.1 L1366.5,687.3 L1367.1,681.1 L1367.8,695.1 L1368.4,678.1 L1369.0,692.3"/>
</g>
<g stroke="#000" stroke-width="2.15" fill="none">
<line x1="130.00" y1="756.3" x2="130.00" y2="764.0"/>
<line x1="284.88" y1="756.3" x2="284.88" y2="764.0"/>
<line x1="439.75" y1="756.3" x2="439.75" y2="764.0"/>
<line x1="594.62" y1="756.3" x2="594.62" y2="764.0"/>
<line x1="749.50" y1="756.3" x2="749.50" y2="764.0"/>
<line x1="904.38" y1="756.3" x2="904.38" y2="764.0"/>
<line x1="1059.25" y1="756.3" x2="1059.25" y2="764.0"/>
<line x1="1214.12" y1="756.3" x2="1214.12" y2="764.0"/>
<line x1="1369.00" y1="756.3" x2="1369.00" y2="764.0"/>
<line x1="130.0" y1="756.30" x2="122.3" y2="756.30"/>
<line x1="130.0" y1="650.81" x2="122.3" y2="650.81"/>
<line x1="130.0" y1="545.33" x2="122.3" y2="545.33"/>
<line x1="130.0" y1="439.84" x2="122.3" y2="439.84"/>
<line x1="130.0" y1="334.36" x2="122.3" y2="334.36"/>
<line x1="130.0" y1="228.87" x2="122.3" y2="228.87"/>
<line x1="130.0" y1="123.39" x2="122.3" y2="123.39"/>
<line x1="130.0" y1="17.90" x2="122.3" y2="17.90"/>
</g>
<rect x="130.0" y="17.9" width="1239.0" height="738.4" fill="none" stroke="#000" stroke-width="2.15"/>
<g>
<text transform="translate(50.50,771.50) scale(0.4240,0.4304)" x="1.67 61.08 91.83" y="0">1.5</text>
<text transform="translate(50.50,666.01) scale(0.4240,0.4304)" x="1.67 61.08 92.19" y="0">1.6</text>
<text transform="translate(50.50,560.53) scale(0.4240,0.4304)" x="1.67 61.08 92.00" y="0">1.7</text>
<text transform="translate(50.50,455.04) scale(0.4240,0.4304)" x="1.67 61.08 92.19" y="0">1.8</text>
<text transform="translate(50.50,349.56) scale(0.4240,0.4304)" x="1.67 61.08 91.89" y="0">1.9</text>
<text transform="translate(50.50,244.07) scale(0.4240,0.4304)" x="0.94 61.08 92.19" y="0">2.0</text>
<text transform="translate(50.50,138.59) scale(0.4240,0.4304)" x="0.94 61.08 91.67" y="0">2.1</text>
<text transform="translate(50.50,33.10) scale(0.4240,0.4304)" x="0.94 61.08 90.95" y="0">2.2</text>
<text transform="translate(117.29,802.70) scale(0.4240,0.4304)" x="2.18" y="0">0</text>
<text transform="translate(246.56,802.70) scale(0.4240,0.4304)" x="0.94 61.84 122.22" y="0">250</text>
<text transform="translate(401.36,802.70) scale(0.4240,0.4304)" x="1.82 62.20 122.22" y="0">500</text>
<text transform="translate(556.14,802.70) scale(0.4240,0.4304)" x="1.99 61.84 122.22" y="0">750</text>
<text transform="translate(697.73,802.70) scale(0.4240,0.4304)" x="1.67 62.20 122.22 182.25" y="0">1000</text>
<text transform="translate(852.61,802.70) scale(0.4240,0.4304)" x="1.67 60.96 121.86 182.25" y="0">1250</text>
<text transform="translate(1007.48,802.70) scale(0.4240,0.4304)" x="1.67 61.84 122.22 182.25" y="0">1500</text>
<text transform="translate(1162.36,802.70) scale(0.4240,0.4304)" x="1.67 62.01 121.86 182.25" y="0">1750</text>
<text transform="translate(1317.96,802.70) scale(0.4240,0.4304)" x="0.94 62.20 122.22 182.25" y="0">2000</text>
<text transform="translate(509.30,850.00) scale(0.4240,0.4240)" x="-1.70 48.31 80.08 142.41 168.87 227.77 285.99 345.40 372.58 417.06 476.73 526.50 585.43 643.17 693.18 721.29 757.71 825.64 851.80 878.01 904.27 929.51 988.44 1046.19 1099.38" y="0">Trained Tokens (Billions)</text>
<text transform="translate(33.65,515.85) rotate(-90) scale(0.4240,0.4240)" x="-1.70 48.31 80.08 142.41 168.87 228.41 254.87 313.95 373.36 402.65 454.11 511.00 560.15" y="0">Training Loss</text>
</g>
</svg>
</body>
</html>
